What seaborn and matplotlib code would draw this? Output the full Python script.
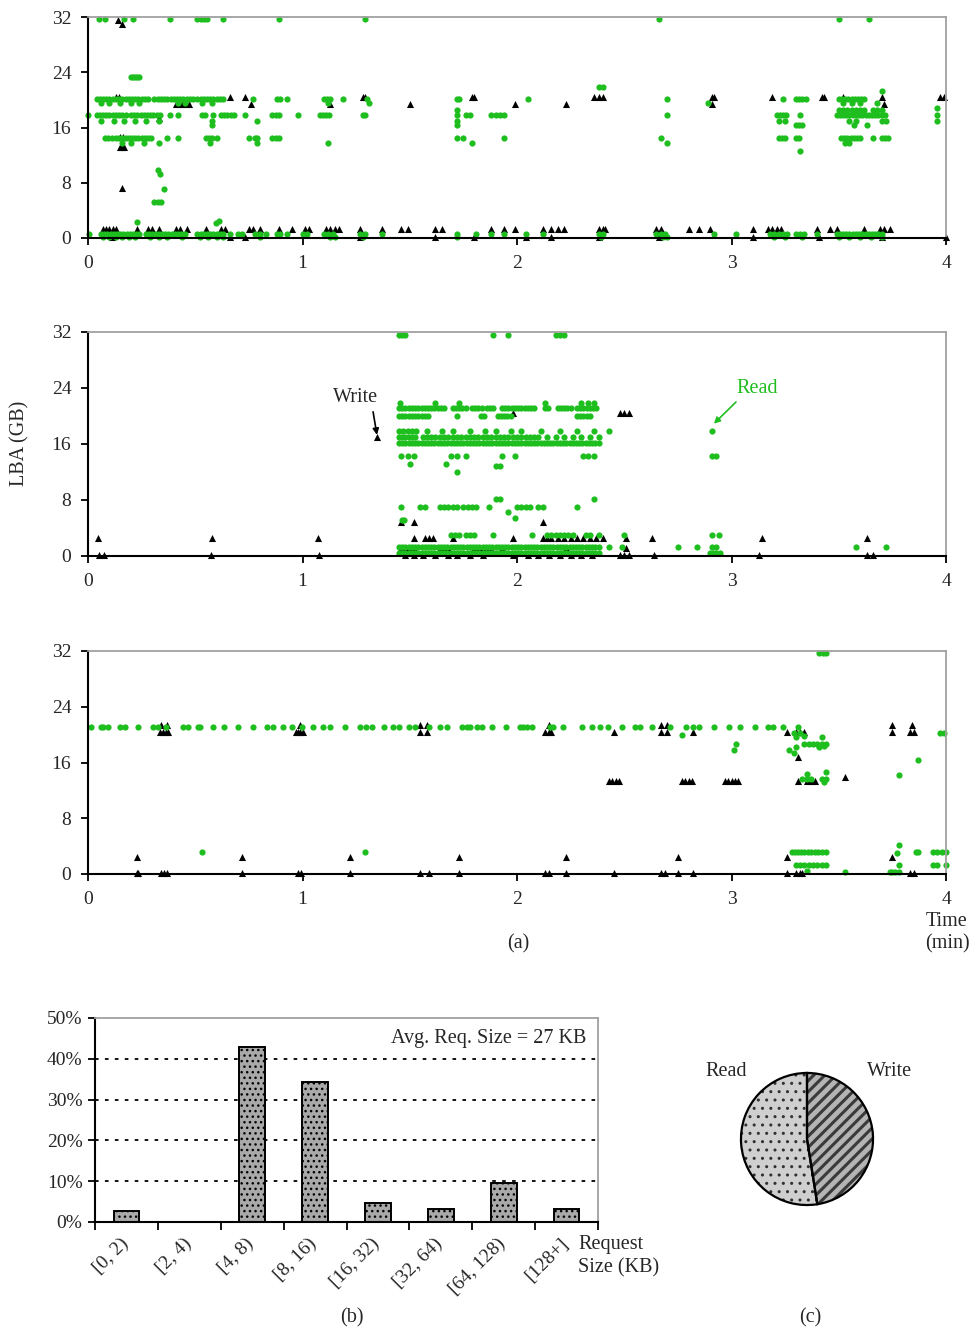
import matplotlib
matplotlib.use("Agg")
import matplotlib.pyplot as plt
import matplotlib.transforms as mtransforms
import numpy as np
import pandas as pd
import seaborn as sns
from matplotlib.patches import Wedge
from matplotlib.ticker import FixedLocator, PercentFormatter

sns.set_style("white")
plt.rcParams["font.family"] = ["Liberation Serif", "DejaVu Serif"]
plt.rcParams["font.size"] = 14

GREEN = "#1ebe1e"
FS = 14.5

# ---------------- Panel 1 (time in min, LBA in GB) ----------------
p1_read_y32 = [0.05, 0.08, 0.17, 0.21, 0.38, 0.51, 0.525, 0.54, 0.555, 0.63, 0.89, 1.29, 2.66, 3.50, 3.64]
p1_read_y23 = [0.20, 0.21, 0.22, 0.23, 0.24]
p1_read_y20 = [0.040, 0.055, 0.070, 0.085, 0.100, 0.115, 0.130, 0.145, 0.160, 0.175, 0.190, 0.205, 0.220,
               0.235, 0.250, 0.265, 0.280, 0.310, 0.325, 0.340, 0.355, 0.370, 0.385, 0.400, 0.415, 0.430,
               0.445, 0.460, 0.475, 0.490, 0.510, 0.525, 0.540, 0.555, 0.570, 0.585, 0.600, 0.615, 0.630,
               0.770, 0.880, 0.895, 0.930, 1.100, 1.115, 1.130, 1.190, 1.300, 1.720, 1.730, 2.050, 2.700,
               3.240, 3.300, 3.315, 3.330, 3.345, 3.500, 3.515, 3.530, 3.545, 3.560, 3.575, 3.590, 3.605, 3.620]
p1_read_y195 = [0.06, 0.10, 0.15, 0.20, 0.24, 0.42, 0.45, 0.53, 0.58, 1.12, 1.31, 2.89, 3.52, 3.56, 3.60, 3.68]
p1_read_y186 = [1.72, 3.50, 3.52, 3.54, 3.56, 3.58, 3.60, 3.62, 3.66, 3.68, 3.70]
p1_read_y178 = [0.000, 0.040, 0.055, 0.070, 0.085, 0.100, 0.115, 0.130, 0.145, 0.160, 0.175, 0.200, 0.215,
                0.230, 0.245, 0.260, 0.275, 0.290, 0.305, 0.320, 0.335, 0.380, 0.420, 0.530, 0.545, 0.585,
                0.620, 0.635, 0.650, 0.665, 0.680, 0.730, 0.860, 0.875, 0.890, 0.980, 1.080, 1.095, 1.110,
                1.125, 1.280, 1.290, 1.720, 1.760, 1.780, 1.880, 1.900, 1.920, 1.940, 2.700, 3.210, 3.225,
                3.240, 3.255, 3.320, 3.490, 3.505, 3.520, 3.535, 3.550, 3.565, 3.580, 3.595, 3.610, 3.625,
                3.640, 3.655, 3.670, 3.685, 3.700, 3.715, 3.960]
p1_read_y170 = [0.06, 0.12, 0.17, 0.22, 0.27, 0.33, 0.58, 0.79, 1.72, 3.22, 3.25, 3.55, 3.58, 3.70, 3.72, 3.96]
p1_read_y163 = [0.58, 1.72, 3.30, 3.315, 3.33, 3.57, 3.63]
p1_read_y145 = [0.080, 0.095, 0.110, 0.130, 0.145, 0.160, 0.175, 0.190, 0.205, 0.220, 0.235, 0.250, 0.265,
                0.280, 0.295, 0.370, 0.420, 0.550, 0.565, 0.580, 0.600, 0.750, 0.780, 0.790, 0.860, 0.875,
                0.890, 1.720, 1.750, 1.940, 2.670, 3.220, 3.235, 3.250, 3.300, 3.315, 3.510, 3.525, 3.540,
                3.555, 3.570, 3.585, 3.600, 3.660, 3.700, 3.715, 3.730]
p1_read_y138 = [0.16, 0.20, 0.26, 0.33, 0.57, 0.79, 1.12, 1.79, 2.70, 3.53, 3.55]
p1_read_misc_t = [0.325, 0.335, 0.355, 0.31, 0.325, 0.34, 0.23, 0.595, 0.61, 3.32, 3.70, 2.38, 2.40, 3.96]
p1_read_misc_l = [9.8, 9.2, 7.1, 5.2, 5.2, 5.2, 2.3, 2.1, 2.4, 12.6, 21.3, 21.9, 21.9, 18.8]
p1_read_y06 = [0.005, 0.060, 0.075, 0.090, 0.105, 0.120, 0.135, 0.150, 0.165, 0.180, 0.195, 0.210, 0.225,
               0.240, 0.270, 0.285, 0.300, 0.315, 0.330, 0.345, 0.360, 0.375, 0.390, 0.405, 0.420, 0.435,
               0.450, 0.510, 0.525, 0.540, 0.555, 0.570, 0.585, 0.600, 0.615, 0.630, 0.660, 0.700, 0.720,
               0.780, 0.800, 0.830, 0.880, 0.895, 0.930, 1.000, 1.020, 1.100, 1.120, 1.140, 1.270, 1.290,
               1.370, 1.720, 1.810, 1.880, 1.940, 2.040, 2.120, 2.380, 2.400, 2.650, 2.670, 2.690, 2.920,
               3.020, 3.180, 3.200, 3.220, 3.240, 3.260, 3.300, 3.320, 3.340, 3.400, 3.490, 3.505, 3.520,
               3.535, 3.550, 3.565, 3.580, 3.595, 3.610, 3.625, 3.640, 3.655, 3.670, 3.685, 3.700]
p1_read_y02 = [0.070, 0.100, 0.130, 0.160, 0.190, 0.220, 0.290, 0.330, 0.370, 0.440, 0.520, 0.560, 0.600,
               0.630, 0.800, 1.130, 1.150, 1.280, 1.720, 2.390, 2.680, 2.700, 3.200, 3.250, 3.330, 3.500,
               3.550, 3.600, 3.650, 3.700]

p1_write_y204 = [0.13, 0.145, 0.66, 0.73, 1.28, 1.29, 1.79, 1.80, 2.36, 2.38, 2.40, 2.91, 2.92, 3.19, 3.42,
                 3.43, 3.52, 3.70, 3.97, 3.99]
p1_write_y194 = [0.41, 0.425, 0.44, 0.455, 0.47, 0.76, 1.13, 1.50, 1.99, 2.23, 2.91, 3.71]
p1_write_y13 = [0.07, 0.085, 0.10, 0.115, 0.13, 0.23, 0.28, 0.30, 0.33, 0.41, 0.43, 0.46, 0.55, 0.62, 0.64,
                0.75, 0.77, 0.80, 0.89, 0.95, 1.01, 1.03, 1.11, 1.13, 1.15, 1.17, 1.27, 1.37, 1.46, 1.49,
                1.62, 1.65, 1.88, 1.94, 1.99, 2.12, 2.16, 2.19, 2.22, 2.38, 2.40, 2.41, 2.65, 2.67, 2.80,
                2.85, 2.90, 3.10, 3.17, 3.19, 3.21, 3.23, 3.40, 3.46, 3.49, 3.62, 3.69, 3.71, 3.74]
p1_write_y01 = [0.11, 0.66, 0.73, 1.27, 1.62, 1.80, 2.04, 2.16, 2.38, 2.66, 3.10, 3.41, 3.70, 4.00]
p1_write_misc_t = [0.14, 0.16, 0.16, 0.33, 0.15, 0.165, 0.15, 0.16, 0.17]
p1_write_misc_l = [31.5, 31.0, 7.2, 17.4, 14.6, 14.6, 13.2, 13.2, 13.2]

# ---------------- Panel 2 ----------------
p2_dense_t = [1.450, 1.465, 1.480, 1.495, 1.510, 1.525, 1.540, 1.555, 1.570, 1.585, 1.600, 1.615, 1.630,
              1.645, 1.660, 1.675, 1.690, 1.705, 1.720, 1.735, 1.750, 1.765, 1.780, 1.795, 1.810, 1.825,
              1.840, 1.855, 1.870, 1.885, 1.900, 1.915, 1.930, 1.945, 1.960, 1.975, 1.990, 2.005, 2.020,
              2.035, 2.050, 2.065, 2.080, 2.095, 2.110, 2.125, 2.140, 2.155, 2.170, 2.185, 2.200, 2.215,
              2.230, 2.245, 2.260, 2.275, 2.290, 2.305, 2.320, 2.335, 2.350, 2.365, 2.380]
p2_read_y316 = [1.45, 1.465, 1.48, 1.89, 1.96, 2.18, 2.20, 2.22]
p2_read_y218 = [1.455, 1.62, 1.73, 2.13, 2.30, 2.33, 2.36]
p2_read_y212 = [1.450, 1.465, 1.480, 1.495, 1.510, 1.525, 1.540, 1.555, 1.570, 1.585, 1.600, 1.615, 1.630,
                1.645, 1.660, 1.700, 1.715, 1.730, 1.745, 1.760, 1.790, 1.805, 1.820, 1.835, 1.860, 1.875,
                1.890, 1.930, 1.945, 1.960, 1.975, 1.990, 2.005, 2.020, 2.035, 2.050, 2.065, 2.080, 2.130,
                2.145, 2.190, 2.205, 2.220, 2.235, 2.250, 2.280, 2.295, 2.310, 2.325, 2.340, 2.355, 2.370]
p2_read_y200 = [1.450, 1.465, 1.480, 1.495, 1.510, 1.525, 1.540, 1.555, 1.570, 1.585, 1.720, 1.830, 1.845,
                1.910, 1.925, 1.940, 1.955, 1.970, 2.280, 2.295, 2.310, 2.325, 2.340]
p2_read_y178 = [1.450, 1.470, 1.490, 1.510, 1.530, 1.580, 1.650, 1.700, 1.780, 1.850, 1.900, 1.970, 2.020,
                2.110, 2.200, 2.280, 2.360, 2.430, 2.910]
p2_read_y170 = [1.450, 1.465, 1.480, 1.495, 1.510, 1.525, 1.560, 1.580, 1.600, 1.620, 1.640, 1.660, 1.680,
                1.700, 1.720, 1.740, 1.760, 1.780, 1.800, 1.820, 1.840, 1.860, 1.880, 1.900, 1.920, 1.940,
                1.960, 1.980, 2.000, 2.020, 2.040, 2.060, 2.080, 2.100, 2.140, 2.180, 2.220, 2.260, 2.300,
                2.340, 2.380]
p2_read_y162 = p2_dense_t
p2_read_y144 = [1.46, 1.49, 1.52, 1.69, 1.72, 1.76, 1.93, 1.99, 2.31, 2.33, 2.36, 2.91, 2.93]
p2_read_misc_t = [1.50, 1.67, 1.72, 1.90, 1.92, 1.96, 1.99, 1.465, 1.475, 1.90, 1.92, 2.36]
p2_read_misc_l = [13.1, 13.1, 12.0, 12.8, 12.8, 6.3, 5.5, 5.1, 5.1, 8.2, 8.2, 8.2]
p2_read_y70 = [1.46, 1.55, 1.57, 1.64, 1.66, 1.68, 1.70, 1.72, 1.75, 1.77, 1.79, 1.81, 1.87, 2.00, 2.02,
               2.04, 2.06, 2.10, 2.12, 2.28]
p2_read_y30 = [1.69, 1.71, 1.73, 1.76, 1.78, 1.80, 1.89, 2.07, 2.14, 2.16, 2.18, 2.20, 2.22, 2.24, 2.26,
               2.32, 2.34, 2.38, 2.50, 2.91, 2.94]
p2_read_y13 = p2_dense_t + [2.43, 2.49, 2.75, 2.84, 2.91, 2.93, 3.58, 3.72]
p2_read_y04 = p2_dense_t + [2.90, 2.915, 2.93, 2.945]

p2_write_y48 = [1.46, 1.52, 2.12]
p2_write_y26 = [0.045, 0.58, 1.07, 1.52, 1.57, 1.59, 1.61, 1.70, 1.98, 2.12, 2.14, 2.16, 2.19, 2.22, 2.25,
                2.28, 2.31, 2.34, 2.37, 2.40, 2.51, 2.63, 3.14, 3.63]
p2_write_y11 = [1.46, 1.48, 1.50, 1.52, 1.64, 1.66, 1.68, 1.80, 1.82, 1.84, 1.86, 1.88, 1.93, 2.23, 2.51]
p2_write_y01 = [0.05, 0.075, 0.575, 1.075, 1.48, 1.52, 1.56, 1.62, 1.68, 1.72, 1.78, 1.84, 1.98, 2.05,
                2.10, 2.15, 2.20, 2.25, 2.30, 2.35, 2.48, 2.50, 2.52, 2.64, 3.13, 3.63, 3.66]
p2_write_y204 = [1.98, 2.48, 2.50, 2.52]
p2_write_misc_t = [1.345]
p2_write_misc_l = [17.0]

# ---------------- Panel 3 ----------------
p3_read_y211 = [0.012, 0.059, 0.071, 0.095, 0.149, 0.172, 0.235, 0.305, 0.328, 0.364, 0.444, 0.468, 0.514,
                0.522, 0.584, 0.634, 0.701, 0.768, 0.836, 0.864, 0.911, 0.949, 0.996, 1.050, 1.094, 1.128,
                1.198, 1.268, 1.296, 1.322, 1.381, 1.423, 1.451, 1.496, 1.524, 1.590, 1.643, 1.672, 1.742,
                1.765, 1.781, 1.812, 1.835, 1.885, 1.951, 2.014, 2.030, 2.045, 2.068, 2.154, 2.170, 2.216,
                2.302, 2.348, 2.387, 2.426, 2.488, 2.550, 2.573, 2.628, 2.713, 2.786, 2.822, 2.848, 2.918,
                2.988, 3.040, 3.111, 3.169, 3.192, 3.242, 3.312]
p3_read_misc_t = [2.77, 3.01, 3.02, 3.29, 3.30, 3.32, 3.34, 3.27, 3.29, 3.30, 3.42, 3.41, 3.43, 3.35, 3.44,
                  3.43, 3.78, 3.87, 3.97, 3.99, 0.53, 1.29, 3.78, 3.77, 3.35]
p3_read_misc_l = [19.9, 17.8, 18.7, 20.2, 19.6, 20.2, 19.8, 17.8, 17.3, 18.2, 19.6, 18.2, 18.3, 14.3, 14.6,
                  13.2, 14.2, 16.3, 20.2, 20.2, 3.2, 3.2, 4.2, 3.0, 0.5]
p3_read_y187 = [3.34, 3.36, 3.38, 3.40, 3.42, 3.44]
p3_read_y137 = [3.33, 3.35, 3.37, 3.42, 3.44]
p3_read_y317 = [3.41, 3.425, 3.44]
p3_read_y31 = [3.28, 3.295, 3.31, 3.325, 3.34, 3.355, 3.37, 3.39, 3.405, 3.42, 3.44, 3.86, 3.87, 3.94,
               3.96, 3.98, 4.00]
p3_read_y13 = [3.30, 3.32, 3.34, 3.36, 3.38, 3.40, 3.42, 3.44, 3.78, 3.94, 3.96, 4.00]
p3_read_y03 = [3.53, 3.74, 3.75, 3.76, 3.78]

p3_write_y214 = [0.34, 0.37, 0.99, 1.55, 1.58, 2.15, 2.67, 2.70, 3.75, 3.84]
p3_write_y204 = [0.335, 0.350, 0.365, 0.375, 0.970, 0.980, 0.990, 1.000, 1.550, 1.580, 2.130, 2.150, 2.160,
                 2.450, 2.670, 2.700, 2.820, 3.260, 3.300, 3.320, 3.340, 3.750, 3.830, 3.850]
p3_write_y133 = [2.430, 2.445, 2.460, 2.475, 2.770, 2.785, 2.800, 2.815, 2.970, 2.985, 3.000, 3.015, 3.030,
                 3.310, 3.350, 3.370, 3.390]
p3_write_y24 = [0.23, 0.72, 1.22, 1.73, 2.23, 2.75, 3.26, 3.75]
p3_write_y01 = [0.230, 0.235, 0.340, 0.355, 0.370, 0.720, 0.980, 0.995, 1.220, 1.550, 1.590, 1.730, 2.130,
                2.150, 2.230, 2.450, 2.670, 2.690, 2.750, 2.820, 3.260, 3.300, 3.320, 3.330, 3.830, 3.850]
p3_write_misc_t = [3.31, 3.53]
p3_write_misc_l = [16.8, 13.9]

# ---------------- Request size histogram and pie ----------------
size_bins = ["[0, 2)", "[2, 4)", "[4, 8)", "[8, 16)", "[16, 32)", "[32, 64)", "[64, 128)", "[128+]"]
size_share = [2.8, 0.0, 42.8, 34.2, 4.6, 3.2, 9.6, 3.2]
rw_labels = ["Write", "Read"]
rw_share = [47.5, 52.5]


def frame(bands, misc_t, misc_l, op):
    rows = []
    for level, ts in bands:
        rows += [(t, level) for t in ts]
    rows += list(zip(misc_t, misc_l))
    df = pd.DataFrame(rows, columns=["t", "lba"])
    df["op"] = op
    return df


panels = [
    (frame([(20.4, p1_write_y204), (19.4, p1_write_y194), (1.3, p1_write_y13), (0.1, p1_write_y01)],
           p1_write_misc_t, p1_write_misc_l, "Write"),
     frame([(31.7, p1_read_y32), (23.3, p1_read_y23), (20.1, p1_read_y20), (19.5, p1_read_y195),
            (18.6, p1_read_y186), (17.8, p1_read_y178), (17.0, p1_read_y170), (16.3, p1_read_y163),
            (14.5, p1_read_y145), (13.8, p1_read_y138), (0.6, p1_read_y06), (0.2, p1_read_y02)],
           p1_read_misc_t, p1_read_misc_l, "Read")),
    (frame([(4.8, p2_write_y48), (2.6, p2_write_y26), (1.1, p2_write_y11), (0.1, p2_write_y01),
            (20.4, p2_write_y204)], p2_write_misc_t, p2_write_misc_l, "Write"),
     frame([(31.6, p2_read_y316), (21.8, p2_read_y218), (21.2, p2_read_y212), (20.0, p2_read_y200),
            (17.8, p2_read_y178), (17.0, p2_read_y170), (16.2, p2_read_y162), (14.3, p2_read_y144),
            (7.0, p2_read_y70), (3.0, p2_read_y30), (1.3, p2_read_y13), (0.4, p2_read_y04)],
           p2_read_misc_t, p2_read_misc_l, "Read")),
    (frame([(21.4, p3_write_y214), (20.4, p3_write_y204), (13.3, p3_write_y133), (2.4, p3_write_y24),
            (0.1, p3_write_y01)], p3_write_misc_t, p3_write_misc_l, "Write"),
     frame([(21.1, p3_read_y211), (18.7, p3_read_y187), (13.7, p3_read_y137), (31.7, p3_read_y317),
            (3.1, p3_read_y31), (1.3, p3_read_y13), (0.3, p3_read_y03)],
           p3_read_misc_t, p3_read_misc_l, "Read")),
]

fig = plt.figure(figsize=(9.74, 13.34), dpi=100)
W, H = 974.0, 1334.0


def px_axes(x0, y0, x1, y1):
    return fig.add_axes([x0 / W, 1 - y1 / H, (x1 - x0) / W, (y1 - y0) / H])


def style_spines(ax):
    for s in ["left", "bottom"]:
        ax.spines[s].set_color("black")
        ax.spines[s].set_linewidth(1.5)
    for s in ["top", "right"]:
        ax.spines[s].set_color("#a0a0a0")
        ax.spines[s].set_linewidth(1.3)


panel_boxes = [(88, 17, 946, 238), (88, 332, 946, 556), (88, 651, 946, 874)]
axes = []
for (box, (wdf, rdf)) in zip(panel_boxes, panels):
    ax = px_axes(*box)
    sns.scatterplot(data=wdf, x="t", y="lba", color="black", marker="^", s=26, linewidth=0, ax=ax,
                    legend=False)
    sns.scatterplot(data=rdf, x="t", y="lba", color=GREEN, marker="o", s=20, linewidth=0, ax=ax,
                    legend=False)
    for c in ax.collections:
        c.set_clip_on(False)
    ax.set_xlim(0, 4)
    ax.set_ylim(0, 32)
    ax.set_xticks([0, 1, 2, 3, 4])
    ax.set_yticks([0, 8, 16, 24, 32])
    ax.set_xlabel("")
    ax.set_ylabel("")
    ax.tick_params(axis="both", direction="out", length=5, width=1.3, color="black", labelsize=14,
                   pad=7, left=True, bottom=True)
    style_spines(ax)
    axes.append(ax)

# annotations in panel 2
axes[1].text(1.249, 22.7, "Write", ha="center", va="center", fontsize=FS)
axes[1].annotate("", xy=(1.347, 17.3), xytext=(1.329, 20.6),
                 arrowprops=dict(arrowstyle="-|>", color="black", lw=1.2, mutation_scale=9,
                                 shrinkA=0, shrinkB=0))
axes[1].text(3.119, 23.9, "Read", ha="center", va="center", fontsize=FS, color=GREEN)
axes[1].annotate("", xy=(2.918, 18.9), xytext=(3.021, 22.0),
                 arrowprops=dict(arrowstyle="-|>", color=GREEN, lw=1.2, mutation_scale=9,
                                 shrinkA=0, shrinkB=0))

fig.text(20 / W, 1 - 443 / H, "LBA (GB)", rotation=90, ha="center", va="center", fontsize=FS)
fig.text(518 / W, 1 - 944 / H, "(a)", ha="center", va="center", fontsize=FS)
fig.text(947 / W, 1 - 933 / H, "Time\n(min)", ha="center", va="center", fontsize=FS, linespacing=1.25)

# ---------------- bar chart (b) ----------------
axb = px_axes(95, 1018, 598, 1222)
bdf = pd.DataFrame({"bin": size_bins, "share": size_share})
sns.barplot(data=bdf, x="bin", y="share", color="#a9a9a9", edgecolor="black", linewidth=1.4, width=0.41,
            saturation=1, ax=axb)
for p in axb.patches:
    p.set_hatch("...")
    p.set_facecolor("#a9a9a9")
    p.set_edgecolor("black")
axb.set_xlim(-0.5, len(size_bins) - 0.5)
axb.set_ylim(0, 50)
axb.set_yticks([0, 10, 20, 30, 40, 50])
axb.yaxis.set_major_formatter(PercentFormatter(decimals=0))
axb.set_xlabel("")
axb.set_ylabel("")
axb.yaxis.grid(True, color="black", linestyle=(0, (2, 3.5)), linewidth=1.3)
gl = axb.get_ygridlines()
gl[0].set_visible(False)
gl[-1].set_visible(False)
axb.set_axisbelow(True)
axb.xaxis.set_minor_locator(FixedLocator(np.arange(-0.5, len(size_bins), 1.0)))
axb.tick_params(axis="x", which="major", length=0, pad=9, labelsize=14)
axb.tick_params(axis="x", which="minor", direction="out", length=6, width=1.3, color="black", bottom=True)
axb.tick_params(axis="y", direction="out", length=5, width=1.3, color="black", labelsize=14, pad=4,
                left=True)
shift = mtransforms.ScaledTranslation(-7 / 100.0, 0, fig.dpi_scale_trans)
for lab in axb.get_xticklabels():
    lab.set_rotation(45)
    lab.set_ha("right")
    lab.set_va("top")
    lab.set_rotation_mode("anchor")
    lab.set_transform(lab.get_transform() + shift)
style_spines(axb)
axb.text(0.976, 0.90, "Avg. Req. Size = 27 KB", transform=axb.transAxes, ha="right", va="center",
         fontsize=FS)
fig.text(578 / W, 1 - 1256 / H, "Request\nSize (KB)", ha="left", va="center", fontsize=FS,
         linespacing=1.3)
fig.text(352 / W, 1 - 1318 / H, "(b)", ha="center", va="center", fontsize=FS)

# ---------------- pie chart (c) ----------------
axp = px_axes(807 - 70, 1139 - 70, 807 + 70, 1139 + 70)
wedges, _ = axp.pie(rw_share, startangle=90, counterclock=False,
                    colors=["#b4b4b4", "#cfcfcf"],
                    wedgeprops=dict(edgecolor="black", linewidth=0))
wedges[1].set_hatch("..")
wedges[1].set_edgecolor("#303030")
with plt.rc_context({"hatch.linewidth": 2.2}):
    stripes = Wedge(wedges[0].center, wedges[0].r, wedges[0].theta1, wedges[0].theta2,
                    facecolor="none", edgecolor="#3a3a3a", hatch="///", linewidth=0)
    axp.add_patch(stripes)
for w in wedges:
    axp.add_patch(Wedge(w.center, w.r, w.theta1, w.theta2, fill=False, edgecolor="black", linewidth=1.6))
axp.set_xlim(-1.06, 1.06)
axp.set_ylim(-1.06, 1.06)
axp.set_aspect("equal")
axp.axis("off")
fig.text(726 / W, 1 - 1071 / H, "Read", ha="center", va="center", fontsize=FS)
fig.text(890 / W, 1 - 1071 / H, "Write", ha="center", va="center", fontsize=FS)
fig.text(810 / W, 1 - 1318 / H, "(c)", ha="center", va="center", fontsize=FS)

fig.savefig("out.png", dpi=100)
